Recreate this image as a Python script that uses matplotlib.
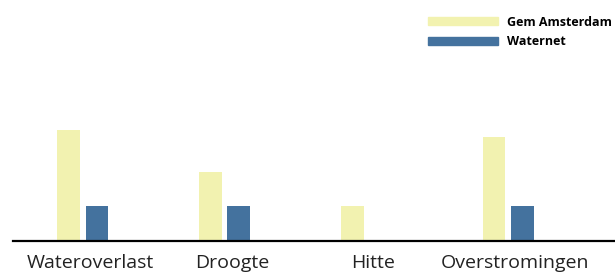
import matplotlib
matplotlib.use("Agg")
import matplotlib.pyplot as plt
from matplotlib.patches import Patch
import numpy as np

plt.rcParams['font.family'] = ['Open Sans', 'DejaVu Sans']

categories = ["Wateroverlast", "Droogte", "Hitte", "Overstromingen"]
gem_amsterdam = [16, 10, 5, 15]
waternet = [5, 5, 0, 5]
series_names = ["Gem Amsterdam", "Waternet"]

yellow = "#f2f2b0"
blue = "#44729e"

fig = plt.figure(figsize=(6.15, 2.73), dpi=100)
# axes: baseline at 32px from bottom, left edge at 13px
ax = fig.add_axes([13 / 615, 32 / 273, 1 - 13 / 615, 1 - 32 / 273])

x = np.arange(len(categories))
w = 0.162
off = 0.099
ax.bar(x - off, gem_amsterdam, width=w, color=yellow)
ax.bar(x + off, waternet, width=w, color=blue)

ax.set_xlim(-0.494, 3.755)
ax.set_ylim(0, 16 * 241 / 111)

for s in ["top", "right", "left"]:
    ax.spines[s].set_visible(False)
ax.spines["bottom"].set_linewidth(1.6)
ax.spines["bottom"].set_color("black")
ax.set_yticks([])
ax.set_xticks(x + 0.05)
ax.set_xticklabels(categories, fontsize=14, color="#222222")
ax.tick_params(axis="x", length=0, pad=9)
ax.patch.set_visible(False)

handles = [Patch(color=yellow), Patch(color=blue)]
fig.legend(handles, series_names, loc="upper left",
           bbox_to_anchor=(424 / 615, 1 - 12 / 273), frameon=False,
           prop={'weight': 'bold', 'size': 9}, handlelength=5.6,
           handleheight=0.62, handletextpad=0.75, labelspacing=0.5,
           borderaxespad=0, borderpad=0.3)

fig.savefig("out.png", dpi=100)
